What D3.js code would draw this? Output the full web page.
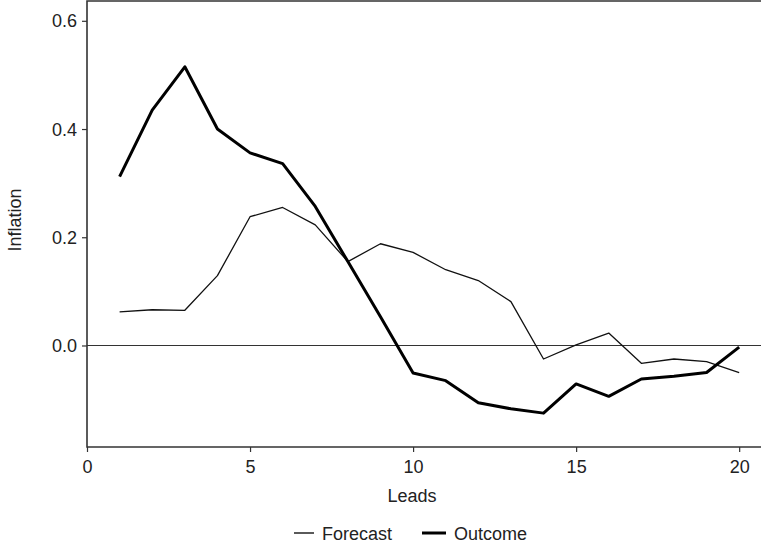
<!DOCTYPE html>
<html>
<head>
<meta charset="utf-8">
<script src="https://cdn.jsdelivr.net/npm/d3@7"></script>
<style>
  html, body { margin: 0; padding: 0; background: #fff; }
  svg { display: block; }
  text { font-family: "Liberation Sans", Arial, sans-serif; fill: #222; }
</style>
</head>
<body>
<script>
const leads = [1,2,3,4,5,6,7,8,9,10,11,12,13,14,15,16,17,18,19,20];
const forecast = [0.062,0.066,0.065,0.129,0.238,0.255,0.223,0.155,0.188,0.172,0.140,0.120,0.081,-0.025,0.001,0.023,-0.033,-0.025,-0.030,-0.050];
const outcome = [0.312,0.435,0.515,0.400,0.356,0.336,0.257,0.155,0.053,-0.051,-0.065,-0.106,-0.117,-0.125,-0.071,-0.094,-0.062,-0.057,-0.050,-0.003];
const xTicks = [0,5,10,15,20];
const yTicks = [0.0,0.2,0.4,0.6];
const seriesNames = ["Forecast","Outcome"];

const W = 761, H = 548;
const pLeft = 87, pTop = 1, pBottom = 447, pRight = 762;

const svg = d3.select("body").append("svg").attr("width", W).attr("height", H);

const x = d3.scaleLinear().domain([0, 20.7]).range([pLeft, pRight]);
const y = d3.scaleLinear().domain([-0.1876, 0.6366]).range([pBottom, pTop]);

// zero reference line
svg.append("line")
  .attr("x1", pLeft).attr("x2", pRight)
  .attr("y1", y(0)).attr("y2", y(0))
  .attr("stroke", "#333").attr("stroke-width", 1.1);

const line = d3.line().x((d,i) => x(leads[i])).y(d => y(d));

svg.append("path").datum(forecast)
  .attr("d", line).attr("fill", "none")
  .attr("stroke", "#111").attr("stroke-width", 1.3)
  .attr("stroke-linejoin", "round");

svg.append("path").datum(outcome)
  .attr("d", line).attr("fill", "none")
  .attr("stroke", "#000").attr("stroke-width", 3)
  .attr("stroke-linejoin", "round");

// axes
const xAxis = svg.append("g").attr("transform", `translate(0,${pBottom})`)
  .call(d3.axisBottom(x).tickValues(xTicks).tickFormat(d3.format("d")).tickSize(5).tickSizeOuter(0));
const yAxis = svg.append("g").attr("transform", `translate(${pLeft},0)`)
  .call(d3.axisLeft(y).tickValues(yTicks).tickFormat(d3.format(".1f")).tickSize(5).tickSizeOuter(0));

[xAxis, yAxis].forEach(g => {
  g.select(".domain").remove();
  g.selectAll(".tick line").attr("stroke", "#333").attr("stroke-width", 1.2);
  g.selectAll(".tick text").attr("font-size", 18).style("fill", "#222")
    .attr("font-family", "'Liberation Sans', Arial, sans-serif");
});
xAxis.selectAll(".tick text").attr("dy", null).attr("y", 26);
yAxis.selectAll(".tick text").attr("x", -10).attr("dy", "0.34em");

// panel border: left, bottom, top
svg.append("path")
  .attr("d", `M${pRight},${pTop}H${pLeft}V${pBottom}H${pRight}`)
  .attr("fill", "none").attr("stroke", "#333").attr("stroke-width", 1.6);

// axis titles
svg.append("text").attr("x", 412).attr("y", 502)
  .attr("text-anchor", "middle").attr("font-size", 18).text("Leads");
svg.append("text")
  .attr("transform", `translate(21,${(pTop + pBottom) / 2 - 4}) rotate(-90)`)
  .attr("text-anchor", "middle").attr("font-size", 18).text("Inflation");

// legend
const legend = svg.append("g");
const legItems = [
  {name: seriesNames[0], x0: 294, x1: 314, tx: 322, w: 1.3},
  {name: seriesNames[1], x0: 422, x1: 446, tx: 454, w: 3}
];
legItems.forEach(it => {
  legend.append("line").attr("x1", it.x0).attr("x2", it.x1)
    .attr("y1", 533).attr("y2", 533)
    .attr("stroke", "#000").attr("stroke-width", it.w);
  legend.append("text").attr("x", it.tx).attr("y", 539.5)
    .attr("font-size", 18).text(it.name);
});
</script>
</body>
</html>
